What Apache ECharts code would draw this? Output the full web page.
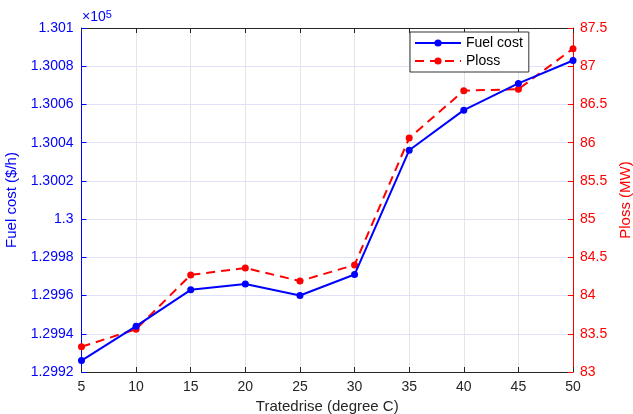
<!DOCTYPE html>
<html>
<head>
<meta charset="utf-8">
<script src="https://cdn.jsdelivr.net/npm/echarts@6/dist/echarts.min.js"></script>
<style>html,body{margin:0;padding:0;background:#fff}#c{width:633px;height:414px}</style>
</head>
<body>
<div id="c"></div>
<script>
const tratedrise = [5, 10, 15, 20, 25, 30, 35, 40, 45, 50];
const fuelCost = [1.29926, 1.29944, 1.29963, 1.29966, 1.29960, 1.29971, 1.30036, 1.30057, 1.30071, 1.30083]; // x1e5 $/h
const ploss = [83.33, 83.56, 84.27, 84.36, 84.19, 84.40, 86.06, 86.68, 86.70, 87.23];
const xTicks = {min: 5, max: 50, interval: 5};
const leftTicks = {min: 1.2992, max: 1.301, interval: 0.0002};
const rightTicks = {min: 83, max: 87.5, interval: 0.5};

const FONT = 'Liberation Sans, Arial, Helvetica, sans-serif';
const chart = echarts.init(document.getElementById('c'), null, {renderer: 'canvas'});
const fmt = v => String(Number(v.toFixed(4)));
chart.setOption({
  animation: false,
  backgroundColor: '#fff',
  textStyle: {fontFamily: FONT},
  grid: {left: 81.5, right: 60, top: 28, bottom: 42, containLabel: false, outerBoundsMode: 'none'},
  legend: {
    orient: 'vertical', left: 410, top: 32,
    backgroundColor: '#fff', borderColor: '#333', borderWidth: 1, borderRadius: 0,
    padding: [4, 6, 4, 4], itemGap: 4, itemWidth: 46, itemHeight: 9,
    textStyle: {fontSize: 14, color: '#000', fontFamily: FONT},
    data: ['Fuel cost', 'Ploss']
  },
  graphic: [{
    type: 'text', left: 82, top: 9,
    style: {
      text: '{a|\u00d710}{b|5}', fill: '#0000ff',
      rich: {a: {fontSize: 14, fill: '#0000ff', fontFamily: FONT}, b: {fontSize: 11, fill: '#0000ff', verticalAlign: 'top', padding: [0, 0, 6, 0], fontFamily: FONT}}
    }
  }],
  xAxis: [{
    type: 'value', min: xTicks.min, max: xTicks.max, interval: xTicks.interval,
    name: 'Tratedrise (degree C)', nameLocation: 'middle', nameGap: 26,
    nameTextStyle: {fontSize: 15, color: '#262626', fontFamily: FONT},
    axisLine: {show: true, lineStyle: {color: '#262626', width: 1}},
    axisTick: {show: true, inside: true, length: 5, lineStyle: {color: '#262626'}},
    axisLabel: {fontSize: 14, color: '#262626', margin: 8, fontFamily: FONT},
    splitLine: {show: true, lineStyle: {color: '#e3e3e8', width: 1}}
  }, {
    type: 'value', position: 'top', min: xTicks.min, max: xTicks.max, interval: xTicks.interval,
    axisLine: {show: true, onZero: false, lineStyle: {color: '#262626', width: 1}},
    axisTick: {show: true, inside: true, length: 5, lineStyle: {color: '#262626'}},
    axisLabel: {show: false}, splitLine: {show: false}
  }],
  yAxis: [{
    type: 'value', position: 'left', min: leftTicks.min, max: leftTicks.max, interval: leftTicks.interval,
    name: 'Fuel cost ($/h)', nameLocation: 'middle', nameGap: 55, nameRotate: 90,
    nameTextStyle: {fontSize: 15, color: '#0000ff', fontFamily: FONT},
    axisLine: {show: true, onZero: false, lineStyle: {color: '#0000ff', width: 1}},
    axisTick: {show: true, inside: true, length: 5, lineStyle: {color: '#0000ff'}},
    axisLabel: {fontSize: 14, color: '#0000ff', margin: 8, formatter: fmt, fontFamily: FONT},
    splitLine: {show: true, lineStyle: {color: '#dfe1fa', width: 1}}
  }, {
    type: 'value', position: 'right', min: rightTicks.min, max: rightTicks.max, interval: rightTicks.interval,
    name: 'Ploss (MW)', nameLocation: 'middle', nameGap: 45, nameRotate: 90,
    nameTextStyle: {fontSize: 15, color: '#ff0000', fontFamily: FONT},
    axisLine: {show: true, onZero: false, lineStyle: {color: '#ff0000', width: 1}},
    axisTick: {show: true, inside: true, length: 5, lineStyle: {color: '#ff0000'}},
    axisLabel: {fontSize: 14, color: '#ff0000', margin: 7, fontFamily: FONT},
    splitLine: {show: false}
  }],
  series: [{
    name: 'Fuel cost', type: 'line', xAxisIndex: 0, yAxisIndex: 0,
    data: tratedrise.map((x, i) => [x, fuelCost[i]]),
    symbol: 'circle', symbolSize: 7,
    lineStyle: {color: '#0000ff', width: 2},
    itemStyle: {color: '#0000ff'}, z: 3
  }, {
    name: 'Ploss', type: 'line', xAxisIndex: 0, yAxisIndex: 1,
    data: tratedrise.map((x, i) => [x, ploss[i]]),
    symbol: 'circle', symbolSize: 7,
    lineStyle: {color: '#ff0000', width: 2, type: [9, 6]},
    itemStyle: {color: '#ff0000'}, z: 2
  }]
});
</script>
</body>
</html>
